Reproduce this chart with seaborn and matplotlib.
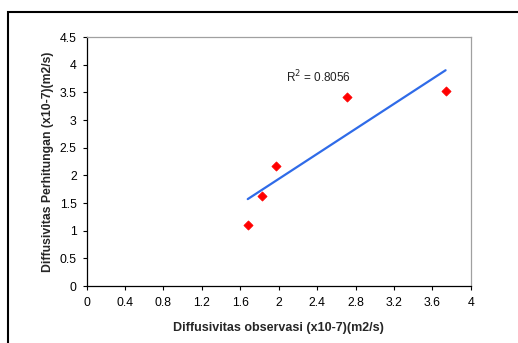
import matplotlib
matplotlib.use('Agg')
import matplotlib.pyplot as plt
import seaborn as sns
import pandas as pd
from matplotlib.patches import Rectangle

# data
observasi = [1.678, 1.830, 1.969, 2.707, 3.737]
perhitungan = [1.095, 1.636, 2.178, 3.411, 3.531]
x_ticks = [0, 0.4, 0.8, 1.2, 1.6, 2, 2.4, 2.8, 3.2, 3.6, 4]
y_ticks = [0, 0.5, 1, 1.5, 2, 2.5, 3, 3.5, 4, 4.5]
x_tick_labels = ['0', '0.4', '0.8', '1.2', '1.6', '2', '2.4', '2.8', '3.2', '3.6', '4']
y_tick_labels = ['0', '0.5', '1', '1.5', '2', '2.5', '3', '3.5', '4', '4.5']

df = pd.DataFrame({'obs': observasi, 'hit': perhitungan})

sns.set_style('white')
plt.rcParams['font.family'] = ['Liberation Sans', 'DejaVu Sans']

fig = plt.figure(figsize=(5.18, 3.43), dpi=100)
ax = fig.add_axes([0.167, 0.166, 0.742, 0.726])

# garis trend linear
sns.regplot(x='obs', y='hit', data=df, ci=None, scatter=False, ax=ax,
            line_kws={'color': '#2f6be8', 'lw': 1.6})
sns.scatterplot(x='obs', y='hit', data=df, marker='D', color='#ff0000',
                s=22, edgecolor='#ff0000', linewidth=0.5, ax=ax, zorder=3)

ax.text(2.075, 3.78, 'R$^2$ = 0.8056', fontsize=8.5, color='#222222', va='center')

ax.set_xlim(0, 4)
ax.set_ylim(0, 4.5)
ax.set_xticks(x_ticks)
ax.set_xticklabels(x_tick_labels)
ax.set_yticks(y_ticks)
ax.set_yticklabels(y_tick_labels)
ax.tick_params(axis='both', direction='out', length=3, width=0.8,
               labelsize=8.8, colors='black', bottom=True, left=True)
ax.tick_params(axis='x', pad=5)
ax.tick_params(axis='y', pad=4)

ax.set_xlabel('Diffusivitas observasi (x10-7)(m2/s)', fontsize=9,
              fontweight='bold', labelpad=9)
ax.set_ylabel('Diffusivitas Perhitungan (x10-7)(m2/s)', fontsize=8.8,
              fontweight='bold', labelpad=4)

for side in ['left', 'bottom']:
    ax.spines[side].set_color('black')
    ax.spines[side].set_linewidth(0.9)
for side in ['top', 'right']:
    ax.spines[side].set_color('#a0a0a0')
    ax.spines[side].set_linewidth(0.9)

# bingkai luar
fig.patches.append(Rectangle((0.0154, -0.05), 1.05, 1.015, transform=fig.transFigure,
                             fill=False, edgecolor='black', lw=1.5))

plt.savefig('out.png', dpi=100)
